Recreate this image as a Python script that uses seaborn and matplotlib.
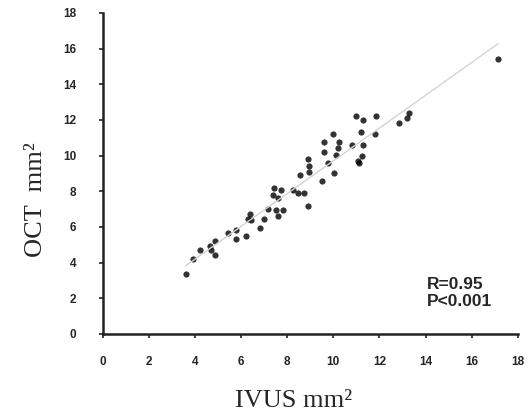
import matplotlib
matplotlib.use("Agg")
import matplotlib.pyplot as plt
import pandas as pd
import seaborn as sns

# lumen area readings (mm2)
ivus = [3.6, 3.9, 4.2, 4.65, 4.7, 4.85, 4.85, 5.45, 5.8, 5.8,
        6.2, 6.3, 6.4, 6.45, 6.8, 7.0, 7.15, 7.4, 7.45, 7.5,
        7.6, 7.6, 7.75, 7.8, 8.25, 8.45, 8.55, 8.75, 8.9, 8.9,
        8.95, 8.95, 9.5, 9.6, 9.6, 9.75, 10.0, 10.05, 10.1, 10.2,
        10.25, 10.8, 11.0, 11.05, 11.1, 11.2, 11.25, 11.3, 11.3, 11.8,
        11.85, 12.85, 13.2, 13.3, 17.15]
oct_area = [3.35, 4.2, 4.7, 4.95, 4.7, 5.2, 4.45, 5.65, 5.85, 5.3,
            5.5, 6.45, 6.7, 6.4, 5.95, 6.45, 7.0, 7.8, 8.2, 6.95,
            7.6, 6.6, 8.1, 6.95, 8.1, 7.9, 8.9, 7.9, 7.2, 9.8,
            9.4, 9.1, 8.6, 10.2, 10.75, 9.6, 11.2, 9.05, 10.05, 10.45,
            10.75, 10.6, 12.2, 9.7, 9.6, 11.3, 10.0, 12.0, 10.6, 11.2,
            12.25, 11.85, 12.1, 12.4, 15.4]
ticks = [0, 2, 4, 6, 8, 10, 12, 14, 16, 18]
stats_text = "R=0.95\nP<0.001"

df = pd.DataFrame({"ivus": ivus, "oct": oct_area})

sns.set_style("ticks")
fig = plt.figure(figsize=(5.29, 4.18), dpi=100)
ax = fig.add_axes([0.194, 0.201, 0.785, 0.768])

sns.regplot(data=df, x="ivus", y="oct", ax=ax, ci=None, truncate=True,
            scatter_kws={"s": 20, "color": "black", "linewidths": 0},
            line_kws={"color": "#d4d4d4", "linewidth": 1.0})

ax.set_xlim(0, 18)
ax.set_ylim(0, 18)
ax.set_xticks(ticks)
ax.set_yticks(ticks)
ax.set_xticklabels([str(t) for t in ticks], fontsize=8.5, fontweight="bold", family="Liberation Sans")
ax.set_yticklabels([str(t) for t in ticks], fontsize=8.5, fontweight="bold", family="Liberation Sans")
ax.tick_params(axis="both", direction="out", length=3, width=1.2, color="#222222")
ax.tick_params(axis="x", pad=13)
ax.tick_params(axis="y", pad=16)
for side in ["top", "right"]:
    ax.spines[side].set_visible(False)
for side in ["left", "bottom"]:
    ax.spines[side].set_linewidth(1.8)
    ax.spines[side].set_color("#222222")

ax.set_xlabel("IVUS mm²", fontsize=19, family="Liberation Serif")
ax.set_ylabel("OCT  mm²", fontsize=19, family="Liberation Serif")
ax.xaxis.set_label_coords(0.46, -0.175)
ax.yaxis.set_label_coords(-0.135, 0.42)

ax.text(14.05, 1.55, stats_text, fontsize=12.5, fontweight="bold",
        family="Liberation Sans", ha="left", va="baseline", linespacing=1.2)

fig.savefig("out.png", dpi=100)
plt.close(fig)
